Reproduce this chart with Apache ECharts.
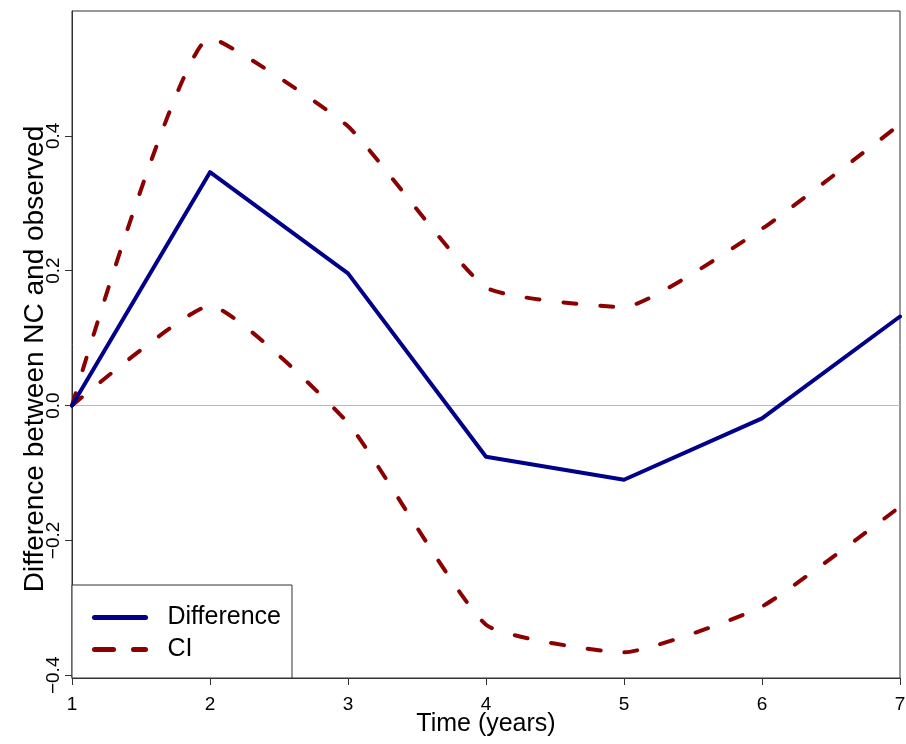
<!DOCTYPE html>
<html>
<head>
<meta charset="utf-8">
<script src="https://cdn.jsdelivr.net/npm/echarts@6/dist/echarts.min.js"></script>
<style>
html,body{margin:0;padding:0;background:#fff;}
#chart{width:906px;height:744px;}
</style>
</head>
<body>
<div id="chart"></div>
<script>
var years = [1, 2, 3, 4, 5, 6, 7];
var difference = [0, 0.346, 0.196, -0.076, -0.110, -0.019, 0.132];
var ciUpper = [0, 0.545, 0.414, 0.175, 0.146, 0.262, 0.417];
var ciLower = [0, 0.148, -0.026, -0.325, -0.366, -0.298, -0.150];
var yTicks = [-0.4, -0.2, 0, 0.2, 0.4];
var yTickLabels = ['\u22120.4', '\u22120.2', '0.0', '0.2', '0.4'];
var xTicks = [1, 2, 3, 4, 5, 6, 7];

var FONT = '"Liberation Sans", Arial, sans-serif';
function pairs(xs, ys) { return xs.map(function (x, i) { return [x, ys[i]]; }); }

var chart = echarts.init(document.getElementById('chart'), null, {renderer: 'canvas'});
chart.setOption({
  animation: false,
  backgroundColor: '#fff',
  grid: {left: 72, right: 6, top: 11, bottom: 66, show: true, borderColor: '#333', borderWidth: 1,
    backgroundColor: 'transparent', outerBoundsMode: 'none', containLabel: false},
  xAxis: {
    type: 'value', min: 1, max: 7, interval: 1,
    name: 'Time (years)', nameLocation: 'middle', nameGap: 34, nameMoveOverlap: false,
    nameTextStyle: {fontFamily: FONT, fontSize: 25, color: '#000'},
    axisLine: {show: true, onZero: false, lineStyle: {color: '#333', width: 1}},
    axisTick: {show: true, length: 7, inside: false, lineStyle: {color: '#333'}},
    axisLabel: {show: true, margin: 17, fontFamily: FONT, fontSize: 19, color: '#000',
      customValues: xTicks, formatter: function (v) { return String(v); }},
    splitLine: {show: false}
  },
  yAxis: {
    type: 'value', min: -0.404, max: 0.585,
    axisLine: {show: true, onZero: false, lineStyle: {color: '#333', width: 1}},
    axisTick: {show: true, length: 7, customValues: yTicks, lineStyle: {color: '#333'}},
    axisLabel: {show: true, rotate: 90, margin: 9, fontFamily: FONT, fontSize: 19, color: '#000',
      customValues: yTicks,
      formatter: function (v) {
        for (var i = 0; i < yTicks.length; i++) { if (Math.abs(yTicks[i] - v) < 1e-9) return yTickLabels[i]; }
        return '';
      }},
    splitLine: {show: false}
  },
  legend: {
    orient: 'vertical', left: 72, bottom: 66,
    data: [
      {name: 'Difference', lineStyle: {width: 5, type: 'solid', color: '#00008B', cap: 'round'}},
      {name: 'CI', lineStyle: {width: 5, type: [19, 20], color: '#8B0000', cap: 'round'}}
    ],
    itemWidth: 51, itemHeight: 24, itemGap: 7,
    padding: [20, 11, 16, 20],
    itemStyle: {opacity: 0, borderWidth: 0},
    borderColor: '#333', borderWidth: 1, borderRadius: 0,
    backgroundColor: '#fff',
    textStyle: {fontFamily: FONT, fontSize: 25, color: '#000', padding: [0, 0, 0, 17]}
  },
  graphic: [{
    type: 'text',
    x: 35, y: 359,
    rotation: Math.PI / 2,
    style: {text: 'Difference between NC and observed', fontFamily: FONT, fontSize: 28, fill: '#000',
      align: 'center', verticalAlign: 'middle'}
  }],
  series: [
    {
      name: 'Difference', type: 'line', data: pairs(years, difference),
      symbol: 'none', z: 3,
      lineStyle: {color: '#00008B', width: 4, cap: 'round', join: 'round'},
      itemStyle: {color: '#00008B'},
      markLine: {
        silent: true, symbol: 'none', label: {show: false},
        lineStyle: {color: '#bbbbbb', width: 1, type: 'solid'},
        data: [{yAxis: 0}], z: 1
      }
    },
    {
      name: 'CI', type: 'line', data: pairs(years, ciUpper),
      symbol: 'none', smooth: 0.15, z: 2,
      lineStyle: {color: '#8B0000', width: 4, type: [13, 24], cap: 'round'},
      itemStyle: {color: '#8B0000'}
    },
    {
      name: 'CI', type: 'line', data: pairs(years, ciLower),
      symbol: 'none', smooth: 0.15, z: 2,
      lineStyle: {color: '#8B0000', width: 4, type: [13, 24], cap: 'round'},
      itemStyle: {color: '#8B0000'}
    }
  ]
});
</script>
</body>
</html>
